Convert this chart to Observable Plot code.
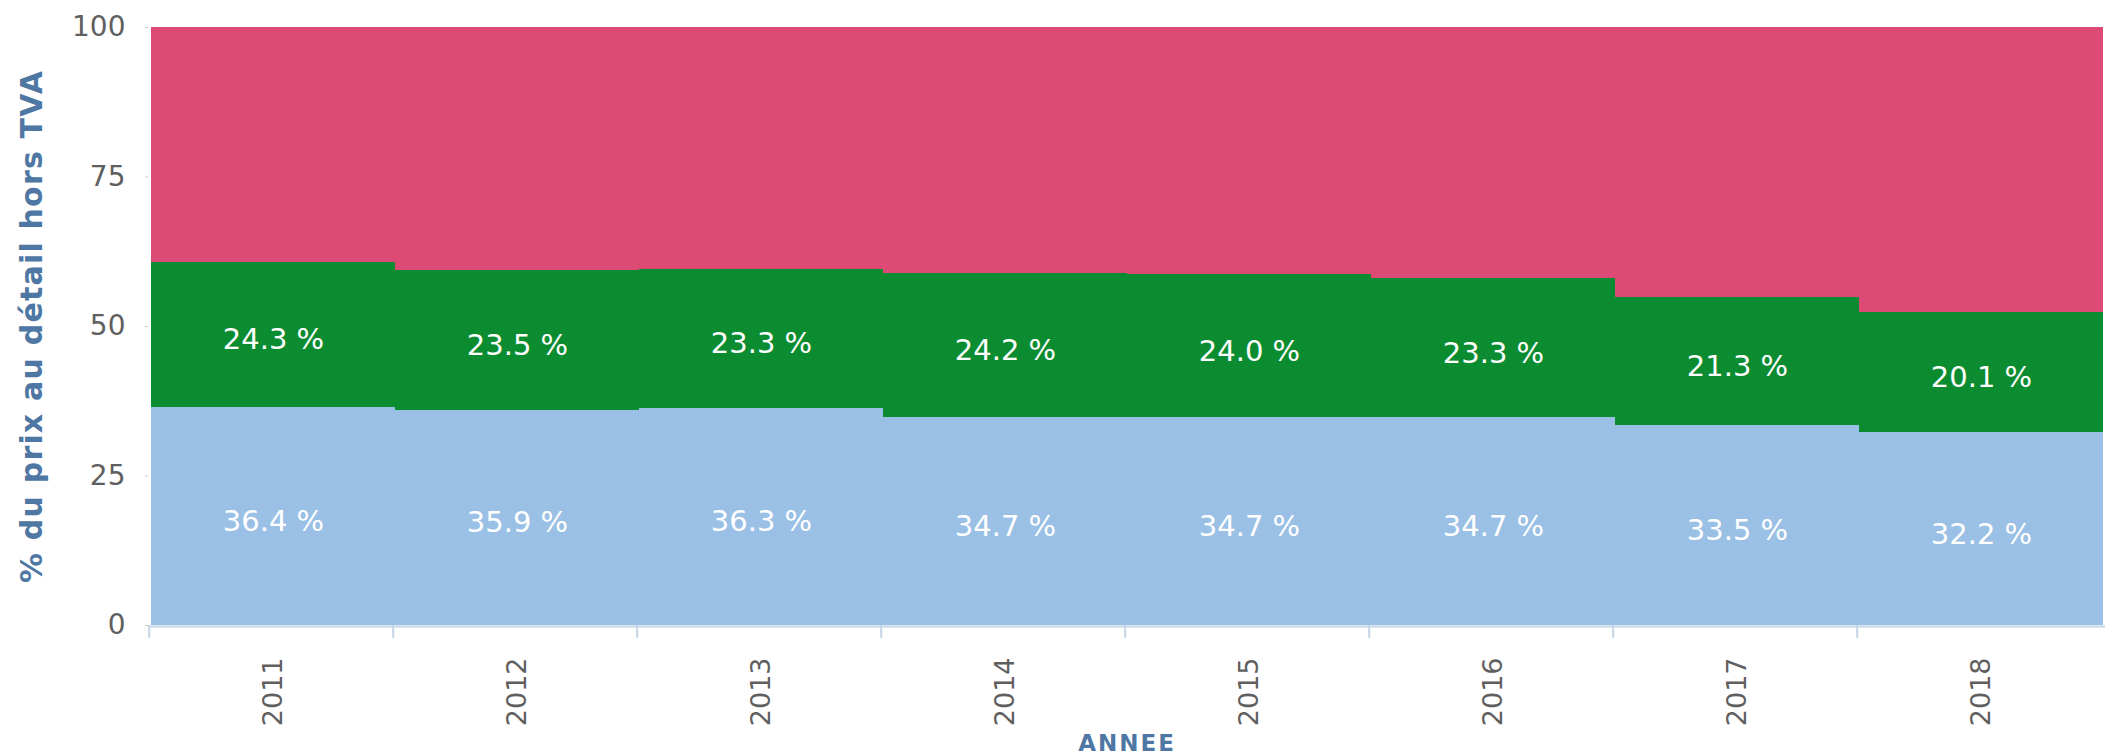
<!DOCTYPE html>
<html>
<head>
<meta charset="utf-8">
<script src="https://cdn.jsdelivr.net/npm/d3@7"></script>
<script src="https://cdn.jsdelivr.net/npm/@observablehq/plot@0.6"></script>
<style>
  html, body { margin: 0; padding: 0; background: #fff; }
  #chart svg { display: block; }
</style>
</head>
<body>
<div id="chart"></div>
<script>
const years = ["2011", "2012", "2013", "2014", "2015", "2016", "2017", "2018"];
const blueValues = [36.4, 35.9, 36.3, 34.7, 34.7, 34.7, 33.5, 32.2];
const greenValues = [24.3, 23.5, 23.3, 24.2, 24.0, 23.3, 21.3, 20.1];
const pinkValues = [39.3, 40.6, 40.4, 41.1, 41.3, 42.0, 45.2, 47.7];
const seriesNames = ["bleu", "vert", "rose"];
const seriesColors = ["#9bc0e5", "#0c8c31", "#dc4a75"];
const yTicks = [0, 25, 50, 75, 100];

const table = [];
years.forEach((yr, i) => {
  table.push({year: yr, series: "bleu", value: blueValues[i], label: true});
  table.push({year: yr, series: "vert", value: greenValues[i], label: true});
  table.push({year: yr, series: "rose", value: pinkValues[i], label: false});
});

const W = 2105, H = 755;
const mL = 148, mR = 0, mT = 27, mB = 130;
const half = (W - mL - mR) / years.length / 2;

const chart = Plot.plot({
  width: W,
  height: H,
  marginLeft: mL,
  marginRight: mR,
  marginTop: mT,
  marginBottom: mB,
  style: {fontFamily: "DejaVu Sans", background: "#fff", overflow: "visible"},
  x: {domain: years, padding: 0},
  y: {domain: [0, 100]},
  color: {domain: seriesNames, range: seriesColors},
  marks: [
    Plot.barY(table, Plot.stackY({x: "year", y: "value", z: "series", fill: "series", order: seriesNames, shapeRendering: "crispEdges"})),
    Plot.text(table, Plot.stackY({
      x: "year", y: "value", z: "series", order: seriesNames,
      text: d => d.label ? d.value.toFixed(1) + " %" : null,
      fill: "#fff", fontSize: 29, dy: 5
    })),
    Plot.ruleY([0], {stroke: "#c6d6e8", strokeWidth: 2, dy: 1}),
    Plot.ruleX(years, {x: d => d, dx: -half - 2, y1: 0, y2: 0, insetTop: 0, insetBottom: -13, stroke: "#c6d6e8", strokeWidth: 2}),
    Plot.axisY({
      ticks: yTicks, tickSize: 3, tickPadding: 20, fontSize: 28, color: "#5f5f5f", stroke: "#c8c8c8",
      label: "% du prix au détail hors TVA", labelAnchor: "center", labelArrow: "none", labelOffset: 128
    }),
    Plot.axisX({
      tickSize: 0, tickPadding: 32, tickRotate: -90, fontSize: 27, color: "#5f5f5f",
      label: "ANNEE", labelAnchor: "center", labelArrow: "none", labelOffset: 125
    })
  ]
});

// style axis labels (fonts/colours only)
d3.select(chart).selectAll("g[aria-label='y-axis label'] text, g[aria-label='x-axis label'] text")
  .attr("fill", "#4e77a3").attr("font-weight", "bold");
d3.select(chart).selectAll("g[aria-label='y-axis label'] text").attr("font-size", 30).attr("letter-spacing", 1.2);
d3.select(chart).selectAll("g[aria-label='x-axis label'] text").attr("font-size", 23).attr("letter-spacing", 2);

document.getElementById("chart").appendChild(chart);
</script>
</body>
</html>
